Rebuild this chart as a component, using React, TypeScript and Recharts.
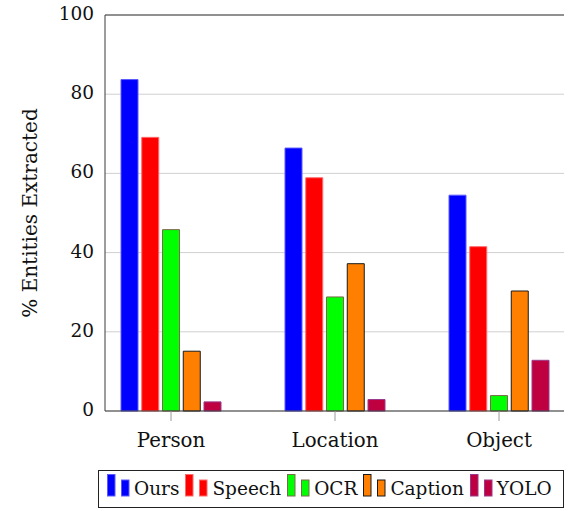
import { BarChart, Bar, XAxis, YAxis, CartesianGrid, Legend, Label } from 'recharts'

const categories = ['Person', 'Location', 'Object']
const ours = [83.7, 66.4, 54.5]
const speech = [69.1, 58.9, 41.5]
const ocr = [45.8, 28.8, 3.9]
const caption = [15.1, 37.2, 30.3]
const yolo = [2.3, 2.9, 12.8]
const yTicks = [0, 20, 40, 60, 80, 100]

const series = [
  { key: 'ours', name: 'Ours', fill: '#0000ff', stroke: '#5a5aff' },
  { key: 'speech', name: 'Speech', fill: '#ff0000', stroke: '#ff6a6a' },
  { key: 'ocr', name: 'OCR', fill: '#00ff00', stroke: '#7a6a48' },
  { key: 'caption', name: 'Caption', fill: '#ff8000', stroke: '#1a1a1a' },
  { key: 'yolo', name: 'YOLO', fill: '#bf0040', stroke: '#9a3a8a' },
]

const data = categories.map((c, i) => ({
  name: c,
  ours: ours[i],
  speech: speech[i],
  ocr: ocr[i],
  caption: caption[i],
  yolo: yolo[i],
}))

// only serif face available in the sandbox
const FONT = 'DejaVu Serif'
const FRAME = '#3a3a3a'
const TICK = '#9a9a9a'

function LegendBox() {
  return (
    <div
      style={{
        border: '1px solid #222',
        display: 'flex',
        alignItems: 'flex-start',
        height: 38,
        width: 466,
        boxSizing: 'border-box',
        paddingLeft: 8,
        paddingTop: 3,
        fontFamily: FONT,
        fontSize: 18.5,
        color: '#111',
        background: '#fff',
      }}
    >
      {series.map((s) => (
        <div key={s.key} style={{ display: 'flex', alignItems: 'flex-start', marginRight: 6 }}>
          <svg width={23} height={24} style={{ display: 'block' }}>
            <rect x={0.5} y={0.5} width={7.5} height={21.5} fill={s.fill} stroke={s.stroke} strokeWidth={1} />
            <rect x={14.5} y={6} width={7.5} height={16} fill={s.fill} stroke={s.stroke} strokeWidth={1} />
          </svg>
          <span style={{ marginLeft: 4, marginTop: 4, lineHeight: 'normal' }}>{s.name}</span>
        </div>
      ))}
    </div>
  )
}

export default function App() {
  return (
    <div style={{ position: 'absolute', left: 0, top: 0, background: '#fff' }}>
      <BarChart
        width={574}
        height={511}
        data={data}
        margin={{ top: 5, right: 10, left: 0, bottom: 3 }}
        barSize={17}
        barGap={3.75}
      >
        <CartesianGrid vertical={false} stroke="#d0d0d0" />
        <XAxis
          dataKey="name"
          height={59}
          padding={{ left: -16, right: -17 }}
          tickSize={10}
          tickMargin={12}
          tickLine={{ stroke: TICK }}
          axisLine={{ stroke: FRAME }}
          tick={{ fill: '#111', fontSize: 19.8, fontFamily: FONT }}
        />
        <XAxis
          xAxisId="top"
          dataKey="name"
          orientation="top"
          height={10}
          padding={{ left: -16, right: -17 }}
          tickSize={10}
          tick={false}
          tickLine={{ stroke: TICK }}
          axisLine={{ stroke: FRAME }}
        />
        <YAxis
          width={105}
          domain={[0, 100]}
          ticks={yTicks}
          tickSize={0}
          tickMargin={11}
          tickLine={false}
          axisLine={{ stroke: FRAME }}
          tick={{ fill: '#111', fontSize: 18.5, fontFamily: FONT, dy: -1.5 }}
        >
          <Label
            value="% Entities Extracted"
            angle={-90}
            position="insideLeft"
            offset={25}
            dx={5}
            style={{ textAnchor: 'middle', fill: '#111', fontSize: 20, fontFamily: FONT }}
          />
        </YAxis>
        <YAxis
          yAxisId="lm"
          mirror
          width={0}
          domain={[0, 100]}
          ticks={yTicks}
          tick={false}
          tickSize={10}
          tickLine={{ stroke: TICK }}
          axisLine={false}
        />
        <YAxis
          yAxisId="rm"
          orientation="right"
          mirror
          width={0}
          domain={[0, 100]}
          ticks={yTicks}
          tick={false}
          tickSize={10}
          tickLine={{ stroke: TICK }}
          axisLine={{ stroke: FRAME }}
        />
        <Legend
          verticalAlign="bottom"
          content={() => <LegendBox />}
          wrapperStyle={{ left: 98, bottom: 3, width: 466, height: 38 }}
        />
        {series.map((s) => (
          <Bar
            key={s.key}
            dataKey={s.key}
            name={s.name}
            fill={s.fill}
            stroke={s.stroke}
            strokeWidth={1}
            isAnimationActive={false}
          />
        ))}
      </BarChart>
    </div>
  )
}
